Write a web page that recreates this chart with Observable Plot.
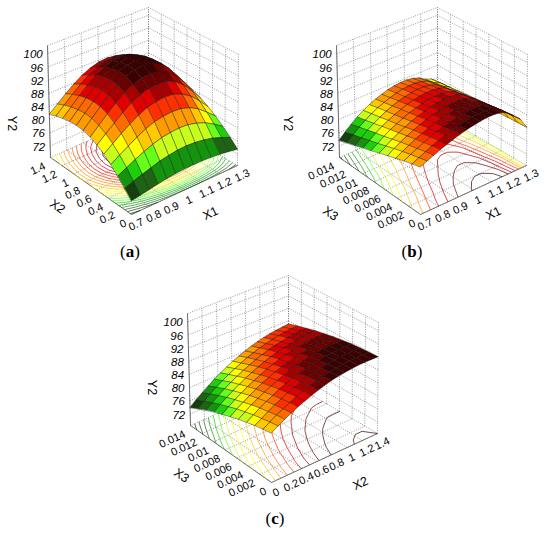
<!DOCTYPE html>
<html><head><meta charset="utf-8">
<script src="https://cdn.jsdelivr.net/npm/d3@7"></script>
<script src="https://cdn.jsdelivr.net/npm/@observablehq/plot@0.6"></script>
<style>html,body{margin:0;padding:0;background:#fff}</style>
</head><body><div id="chart"></div>
<script>
// ---------------- data ----------------
const zTicks = [72, 76, 80, 84, 88, 92, 96, 100];
const x1Ticks = [0.7, 0.8, 0.9, 1, 1.1, 1.2, 1.3];
const x1TickLabels = ["0.7", "0.8", "0.9", "1", "1.1", "1.2", "1.3"];
const x2Ticks = [0, 0.2, 0.4, 0.6, 0.8, 1, 1.2, 1.4];
const x2TickLabels = ["0", "0.2", "0.4", "0.6", "0.8", "1", "1.2", "1.4"];
const x3Ticks = [0, 0.002, 0.004, 0.006, 0.008, 0.01, 0.012, 0.014];
const x3TickLabels = ["0", "0.002", "0.004", "0.006", "0.008", "0.01", "0.012", "0.014"];

// (a) Y2 over X1 (columns) and X2 (rows)
const gridA_X1 = [0.7, 0.75, 0.8, 0.85, 0.9, 0.95, 1, 1.05, 1.1, 1.15, 1.2, 1.25, 1.3];
const gridA_X2 = [0, 0.117, 0.233, 0.35, 0.467, 0.583, 0.7, 0.817, 0.933, 1.05, 1.167, 1.283, 1.4];
const gridA_Y2 = [
  [72.6, 73.0, 73.5, 74.0, 74.4, 74.7, 74.9, 74.9, 74.9, 74.7, 74.4, 74.0, 73.5],
  [74.9, 75.8, 76.7, 77.5, 78.3, 78.8, 79.2, 79.3, 79.1, 78.7, 78.0, 77.0, 75.8],
  [77.2, 78.5, 79.8, 81.0, 82.0, 82.8, 83.2, 83.4, 83.2, 82.5, 81.4, 79.8, 77.9],
  [79.2, 80.9, 82.4, 84.0, 85.3, 86.3, 86.8, 87.0, 86.8, 85.9, 84.4, 82.2, 79.8],
  [81.0, 82.9, 84.8, 86.6, 88.1, 89.3, 89.9, 90.2, 89.9, 88.8, 87.0, 84.4, 81.4],
  [82.3, 84.5, 86.6, 88.7, 90.5, 91.8, 92.6, 92.8, 92.5, 91.3, 89.2, 86.2, 82.8],
  [83.3, 85.6, 88.0, 90.2, 92.2, 93.6, 94.5, 94.7, 94.4, 93.1, 90.8, 87.5, 83.8],
  [83.9, 86.4, 88.8, 91.2, 93.3, 94.8, 95.7, 96.0, 95.6, 94.2, 91.8, 88.3, 84.4],
  [84.0, 86.5, 89.0, 91.4, 93.5, 95.0, 95.9, 96.2, 95.8, 94.4, 92.0, 88.5, 84.5],
  [83.8, 86.2, 88.7, 91.0, 93.1, 94.5, 95.4, 95.7, 95.3, 94.0, 91.6, 88.2, 84.3],
  [83.3, 85.6, 88.0, 90.2, 92.2, 93.6, 94.5, 94.7, 94.4, 93.1, 90.8, 87.5, 83.8],
  [82.6, 84.8, 87.0, 89.1, 90.9, 92.2, 93.0, 93.3, 92.9, 91.7, 89.6, 86.5, 83.0],
  [81.7, 83.7, 85.8, 87.7, 89.4, 90.6, 91.4, 91.6, 91.3, 90.1, 88.2, 85.4, 82.1]
];

// (b) Y2 over X1 (columns) and X3 (rows)
const gridB_X1 = [0.7, 0.7375, 0.775, 0.8125, 0.85, 0.8875, 0.925, 0.9625, 1, 1.0375, 1.075, 1.1125, 1.15, 1.1875, 1.225, 1.2625, 1.3];
const gridB_X3 = [0, 0.0014, 0.0028, 0.0042, 0.0056, 0.007, 0.0084, 0.0098, 0.0112, 0.0126, 0.014];
const gridB_Y2 = [
  [82.7, 83.6, 84.4, 85.2, 85.9, 86.6, 87.2, 87.7, 88.1, 88.4, 88.6, 88.6, 88.3, 87.4, 85.6, 83.6, 80.2],
  [82.0, 82.9, 83.8, 84.7, 85.4, 86.1, 86.7, 87.3, 87.7, 88.0, 88.2, 88.2, 87.9, 87.0, 85.2, 83.3, 80.1],
  [81.2, 82.2, 83.1, 84.0, 84.8, 85.6, 86.2, 86.8, 87.2, 87.5, 87.7, 87.7, 87.4, 86.6, 84.9, 83.1, 80.0],
  [80.3, 81.4, 82.4, 83.4, 84.2, 85.0, 85.7, 86.2, 86.7, 87.0, 87.2, 87.2, 86.9, 86.1, 84.4, 82.7, 79.8],
  [79.4, 80.6, 81.7, 82.7, 83.6, 84.4, 85.1, 85.7, 86.1, 86.5, 86.7, 86.7, 86.4, 85.6, 84.0, 82.4, 79.7],
  [78.5, 79.7, 80.9, 82.0, 82.9, 83.8, 84.5, 85.1, 85.6, 86.0, 86.2, 86.2, 85.9, 85.1, 83.5, 82.1, 79.5],
  [77.5, 78.8, 80.1, 81.3, 82.2, 83.1, 83.9, 84.5, 85.0, 85.4, 85.6, 85.6, 85.3, 84.5, 83.0, 81.7, 79.4],
  [76.6, 78.0, 79.4, 80.6, 81.6, 82.5, 83.3, 84.0, 84.5, 84.9, 85.1, 85.1, 84.8, 84.0, 82.6, 81.4, 79.2],
  [75.6, 77.1, 78.6, 79.8, 80.9, 81.9, 82.7, 83.4, 83.9, 84.3, 84.5, 84.5, 84.2, 83.5, 82.1, 81.1, 79.1],
  [74.7, 76.3, 77.8, 79.1, 80.3, 81.3, 82.1, 82.8, 83.4, 83.8, 84.0, 84.0, 83.7, 83.0, 81.7, 80.8, 79.0],
  [73.7, 75.4, 77.0, 78.4, 79.6, 80.6, 81.5, 82.2, 82.8, 83.2, 83.4, 83.4, 83.1, 82.4, 81.2, 80.4, 78.8]
];

// (c) Y2 over X2 (columns) and X3 (rows)
const gridC_X2 = [0, 0.0875, 0.175, 0.2625, 0.35, 0.4375, 0.525, 0.6125, 0.7, 0.7875, 0.875, 0.9625, 1.05, 1.1375, 1.225, 1.3125, 1.4];
const gridC_X3 = [0, 0.0014, 0.0028, 0.0042, 0.0056, 0.007, 0.0084, 0.0098, 0.0112, 0.0126, 0.014];
const gridC_Y2 = [
  [83.3, 84.5, 85.6, 86.6, 87.6, 88.4, 89.2, 89.9, 90.5, 91.0, 91.4, 91.7, 91.9, 92.1, 92.1, 92.1, 92.0],
  [82.8, 84.0, 85.2, 86.2, 87.2, 88.1, 88.9, 89.6, 90.2, 90.7, 91.2, 91.5, 91.8, 91.9, 92.0, 92.0, 91.9],
  [82.2, 83.4, 84.6, 85.7, 86.7, 87.6, 88.4, 89.2, 89.8, 90.4, 90.8, 91.2, 91.5, 91.7, 91.8, 91.8, 91.7],
  [81.5, 82.8, 84.0, 85.1, 86.1, 87.1, 87.9, 88.7, 89.3, 89.9, 90.4, 90.8, 91.1, 91.3, 91.5, 91.5, 91.5],
  [80.7, 82.0, 83.3, 84.4, 85.4, 86.4, 87.3, 88.1, 88.8, 89.4, 89.9, 90.3, 90.7, 90.9, 91.1, 91.1, 91.1],
  [79.8, 81.2, 82.4, 83.6, 84.7, 85.7, 86.6, 87.4, 88.1, 88.7, 89.3, 89.7, 90.1, 90.4, 90.6, 90.7, 90.7],
  [78.8, 80.2, 81.5, 82.7, 83.8, 84.8, 85.7, 86.6, 87.3, 88.0, 88.6, 89.1, 89.4, 89.7, 90.0, 90.1, 90.1],
  [77.8, 79.2, 80.5, 81.7, 82.8, 83.9, 84.8, 85.7, 86.5, 87.2, 87.8, 88.3, 88.7, 89.0, 89.3, 89.4, 89.5],
  [76.6, 78.0, 79.4, 80.6, 81.8, 82.8, 83.8, 84.7, 85.5, 86.2, 86.9, 87.4, 87.8, 88.2, 88.5, 88.7, 88.7],
  [75.3, 76.8, 78.2, 79.4, 80.6, 81.7, 82.7, 83.6, 84.5, 85.2, 85.9, 86.4, 86.9, 87.3, 87.6, 87.8, 87.9],
  [74.0, 75.5, 76.8, 78.1, 79.4, 80.5, 81.5, 82.5, 83.3, 84.1, 84.8, 85.4, 85.9, 86.3, 86.6, 86.8, 87.0]
];

// ---------------- layout / styling ----------------
const PALETTE = ["#0c1f07", "#173f0d", "#1f6414", "#14930e", "#1ccf0a", "#66ff1a", "#c8ff1a", "#ffff00",
                 "#ffc800", "#ff9a00", "#ff6a00", "#ff3000", "#e00000", "#a80000", "#6a0000", "#3c0000"];
const Z0 = 68.5, Z1 = 102.5;               // vertical extent of the box
const FLOOR = {F: [131, 214], L: [50, 157], R: [237, 165], B: [148, 113]};
const TOP   = {F: [131, 100], L: [47, 45],  R: [238, 54],  B: [148, 7]};

const panels = [
  {U: gridA_X2, V: gridA_X1, Z: gridA_Y2, ox: 0, oy: 0, gamma: 0.85,
   uTicks: x2Ticks, uLabels: x2TickLabels, vTicks: x1Ticks, vLabels: x1TickLabels,
   uTitle: "X2", vTitle: "X1", uTitleAt: [57, 206], vTitleAt: [210, 213], yTitleAt: [11, 123],
   cap: "a", capAt: [130, 257]},
  {U: gridB_X3, V: gridB_X1, Z: gridB_Y2, ox: 289, oy: 0, gamma: 1,
   uTicks: x3Ticks, uLabels: x3TickLabels, vTicks: x1Ticks, vLabels: x1TickLabels,
   uTitle: "X3", vTitle: "X1", uTitleAt: [330, 213], vTitleAt: [493, 213], yTitleAt: [287, 123],
   cap: "b", capAt: [412, 257]},
  {U: gridC_X3, V: gridC_X2, Z: gridC_Y2, ox: 140, oy: 268, gamma: 1,
   uTicks: x3Ticks, uLabels: x3TickLabels, vTicks: x2Ticks, vLabels: x2TickLabels,
   uTitle: "X3", vTitle: "X2", uTitleAt: [181, 475], vTitleAt: [360, 483], yTitleAt: [151, 387],
   cap: "c", capAt: [275, 524]}
];

function bil(q, u, v) {
  return [0, 1].map(k => q.F[k] * (1 - u) * (1 - v) + q.L[k] * u * (1 - v) + q.R[k] * (1 - u) * v + q.B[k] * u * v);
}
function proj(p, u, v, z) {
  const f = bil(FLOOR, u, v), t = bil(TOP, u, v), w = (z - Z0) / (Z1 - Z0);
  return [p.ox + f[0] + (t[0] - f[0]) * w, p.oy + f[1] + (t[1] - f[1]) * w];
}
function colorFor(z, lo, hi, g) {
  const f = Math.max(0, Math.min(1, (z - lo) / (hi - lo)));
  const k = Math.floor(Math.pow(f, g) * PALETTE.length);
  return PALETTE[Math.max(0, Math.min(PALETTE.length - 1, k))];
}
const textW = s => [...s].reduce((w, c) => w + (c === "." ? 3.1 : 6.1), 0);

const dotted = [], solid = [], contour = [], cells = [], zLab = [], uLab = [], vLab = [], titles = [];
let cellId = 0;
panels.forEach(p => {
  const nu = p.U.length, nv = p.V.length;
  const uOf = val => (val - p.U[0]) / (p.U[nu - 1] - p.U[0]);
  const vOf = val => (val - p.V[0]) / (p.V[nv - 1] - p.V[0]);
  const seg = (arr, a, b, extra = {}) => arr.push({x1: a[0], y1: a[1], x2: b[0], y2: b[1], ...extra});
  // walls and floor grid
  const hz = [...zTicks, Z1];
  p.vTicks.forEach(t => { const v = vOf(t);
    seg(dotted, proj(p, 1, v, Z0), proj(p, 1, v, Z1));
    seg(dotted, proj(p, 0, v, Z0), proj(p, 1, v, Z0)); });
  p.uTicks.forEach(t => { const u = uOf(t);
    seg(dotted, proj(p, u, 1, Z0), proj(p, u, 1, Z1));
    seg(dotted, proj(p, u, 0, Z0), proj(p, u, 1, Z0)); });
  hz.forEach(z => {
    seg(dotted, proj(p, 1, 0, z), proj(p, 1, 1, z));
    seg(dotted, proj(p, 0, 1, z), proj(p, 1, 1, z)); });
  seg(solid, proj(p, 0, 0, Z0), proj(p, 1, 0, Z0));
  seg(solid, proj(p, 0, 0, Z0), proj(p, 0, 1, Z0));
  seg(solid, proj(p, 1, 0, Z0), proj(p, 1, 0, Z1));

  const all = p.Z.flat(), lo = d3.min(all), hi = d3.max(all);
  // floor contours (marching squares on the grid)
  for (let level = Math.ceil(lo); level < hi; level += 1) {
    const col = colorFor(level, lo, hi, p.gamma);
    for (let j = 0; j < nu - 1; j++) for (let i = 0; i < nv - 1; i++) {
      const c = [[j, i], [j, i + 1], [j + 1, i + 1], [j + 1, i]], pts = [];
      for (let e = 0; e < 4; e++) {
        const [ja, ia] = c[e], [jb, ib] = c[(e + 1) % 4];
        const za = p.Z[ja][ia], zb = p.Z[jb][ib];
        if ((za < level) !== (zb < level)) {
          const t = (level - za) / (zb - za);
          pts.push(proj(p, (ja + (jb - ja) * t) / (nu - 1), (ia + (ib - ia) * t) / (nv - 1), Z0));
        }
      }
      if (pts.length >= 2) seg(contour, pts[0], pts[1], {c: col});
      if (pts.length === 4) seg(contour, pts[2], pts[3], {c: col});
    }
  }
  // surface cells, painted back to front
  const list = [];
  for (let j = 0; j < nu - 1; j++) for (let i = 0; i < nv - 1; i++) {
    const corners = [[j, i], [j, i + 1], [j + 1, i + 1], [j + 1, i]];
    const zm = d3.mean(corners, ([a, b]) => p.Z[a][b]);
    const depth = proj(p, (j + 0.5) / (nu - 1), (i + 0.5) / (nv - 1), Z0)[1];
    list.push({corners, zm, depth});
  }
  list.sort((a, b) => a.depth - b.depth);
  list.forEach(cell => {
    const id = cellId++, fill = colorFor(cell.zm, lo, hi, p.gamma);
    cell.corners.forEach(([a, b]) => {
      const [x, y] = proj(p, a / (nu - 1), b / (nv - 1), p.Z[a][b]);
      cells.push({id, x, y, fill});
    });
  });
  // labels
  zTicks.forEach(z => { const [x, y] = proj(p, 1, 0, z); zLab.push({x: x - 5, y: y + 1, t: String(z)}); });
  const F = proj(p, 0, 0, Z0), R = proj(p, 0, 1, Z0);
  const nb = Math.hypot(R[0] - F[0], R[1] - F[1]), bx = (R[0] - F[0]) / nb, by = (R[1] - F[1]) / nb;
  const px = -by, py = bx;   // perpendicular, pointing down-right
  p.uTicks.forEach((t, k) => {
    const [x, y] = proj(p, uOf(t), 0, Z0), s = p.uLabels[k], d = textW(s) / 2 + 8.5;
    uLab.push({x: x - bx * d + px * 4.8, y: y - by * d + py * 4.8, t: s});
  });
  p.vTicks.forEach((t, k) => {
    const [x, y] = proj(p, 0, vOf(t), Z0);
    vLab.push({x: x + px * 11, y: y + py * 11, t: p.vLabels[k]});
  });
  titles.push({x: p.uTitleAt[0], y: p.uTitleAt[1], t: p.uTitle, r: 35});
  titles.push({x: p.vTitleAt[0], y: p.vTitleAt[1], t: p.vTitle, r: -25});
  titles.push({x: p.yTitleAt[0], y: p.yTitleAt[1], t: "Y2", r: 90});
});

const plot = Plot.plot({
  width: 550, height: 537, margin: 0,
  x: {domain: [0, 550], range: [0, 550], axis: null},
  y: {domain: [0, 537], range: [0, 537], axis: null},
  color: {type: "identity"},
  style: {background: "#fff", fontFamily: "'Liberation Sans', Arial, sans-serif"},
  marks: [
    Plot.link(dotted, {x1: "x1", y1: "y1", x2: "x2", y2: "y2", stroke: "#555", strokeWidth: 0.6, strokeDasharray: "1,1.4"}),
    Plot.link(solid, {x1: "x1", y1: "y1", x2: "x2", y2: "y2", stroke: "#555", strokeWidth: 0.8}),
    Plot.link(contour, {x1: "x1", y1: "y1", x2: "x2", y2: "y2", stroke: "c", strokeWidth: 0.7}),
    Plot.line(cells, {x: "x", y: "y", z: "id", fill: "fill", stroke: "#111", strokeWidth: 0.45, curve: "linear-closed"}),
    Plot.text(zLab, {x: "x", y: "y", text: "t", textAnchor: "end", fontSize: 11.5, fontStyle: "italic", fill: "#000"}),
    Plot.text(uLab, {x: "x", y: "y", text: "t", rotate: -25, fontSize: 11, fill: "#000"}),
    Plot.text(vLab, {x: "x", y: "y", text: "t", rotate: -25, fontSize: 11, fill: "#000"}),
    Plot.text(titles, {x: "x", y: "y", text: "t", rotate: "r", fontSize: 12.5, fill: "#000"})
  ]
});
document.getElementById("chart").appendChild(plot);

// captions (a), (b), (c) with bold letter
const svg = d3.select(plot);
panels.forEach(p => {
  const t = svg.append("text").attr("x", p.capAt[0]).attr("y", p.capAt[1])
    .attr("text-anchor", "middle").attr("font-family", "'Liberation Serif', 'DejaVu Serif', serif")
    .attr("font-size", 17).attr("fill", "#000");
  t.append("tspan").text("(");
  t.append("tspan").attr("font-weight", "bold").text(p.cap);
  t.append("tspan").text(")");
});
</script>
</body></html>
